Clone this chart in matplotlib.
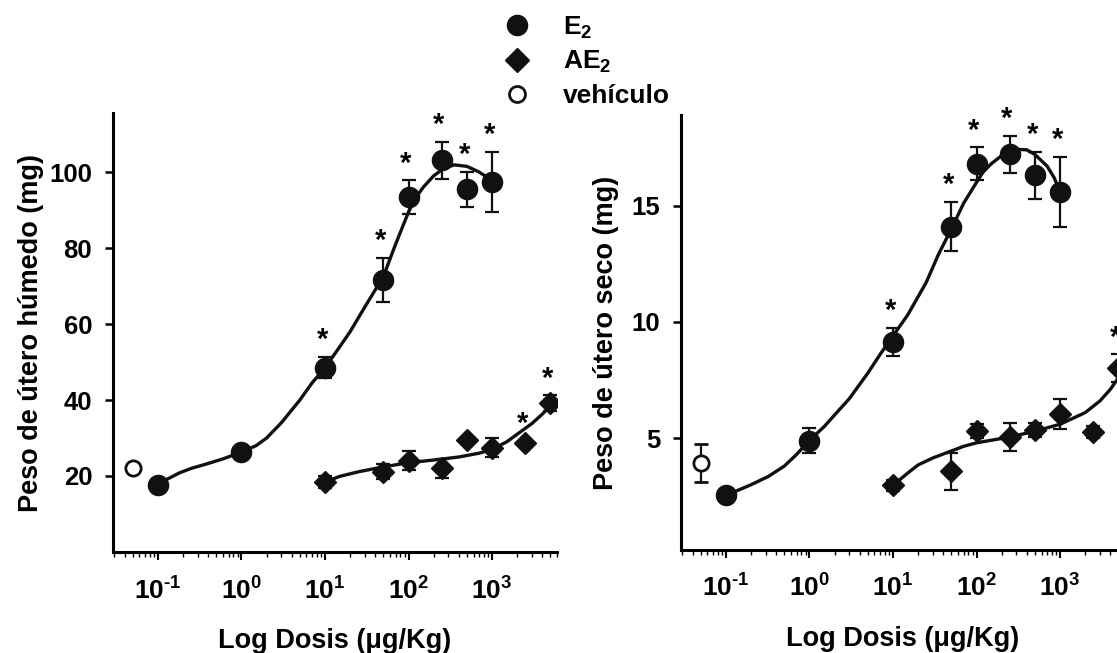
import matplotlib
matplotlib.use("Agg")
import matplotlib.pyplot as plt
from matplotlib.lines import Line2D
from matplotlib.ticker import FixedLocator, FixedFormatter, LogLocator, NullFormatter

plt.rcParams["font.family"] = ["Liberation Sans", "DejaVu Sans"]
plt.rcParams["font.weight"] = "bold"
plt.rcParams["mathtext.fontset"] = "custom"
plt.rcParams["mathtext.rm"] = "Liberation Sans:bold"
plt.rcParams["mathtext.it"] = "Liberation Sans:bold"
plt.rcParams["mathtext.bf"] = "Liberation Sans:bold"
plt.rcParams["mathtext.default"] = "rm"

# doses (ug/Kg)
e2_dose = [0.1, 1, 10, 50, 100, 250, 500, 1000]
ae2_dose = [10, 50, 100, 250, 500, 1000, 2500, 5000]
veh_dose = [0.05]

# wet uterine weight (mg)
wet_e2 = [17.6, 26.3, 48.5, 71.6, 93.4, 103.1, 95.5, 97.4]
wet_e2_err = [0.8, 1.0, 2.8, 5.8, 4.4, 4.8, 4.6, 7.9]
wet_e2_sig = [False, False, True, True, True, True, True, True]
wet_ae2 = [18.4, 21.1, 24.0, 22.1, 29.5, 27.4, 28.7, 39.2]
wet_ae2_err = [1.5, 2.0, 2.5, 2.5, 0.8, 2.5, 0.5, 2.0]
wet_ae2_sig = [False, False, False, False, False, False, True, True]
wet_veh = [22.1]
wet_veh_err = [0.8]

# dry uterine weight (mg)
dry_e2 = [2.54, 4.9, 9.14, 14.1, 16.8, 17.2, 16.3, 15.6]
dry_e2_err = [0.15, 0.55, 0.6, 1.05, 0.7, 0.8, 1.0, 1.5]
dry_e2_sig = [False, False, True, True, True, True, True, True]
dry_ae2 = [2.97, 3.58, 5.3, 5.04, 5.34, 6.03, 5.27, 8.0]
dry_ae2_err = [0.25, 0.8, 0.3, 0.6, 0.3, 0.65, 0.25, 0.6]
dry_ae2_sig = [False, False, False, False, False, False, False, True]
dry_veh = [3.93]
dry_veh_err = [0.8]

# fitted curves
wet_e2_fit_x = [0.1, 0.13, 0.18, 0.25, 0.4, 0.6, 1, 1.5, 2, 3, 5, 7, 10, 15, 20, 30,
                50, 70, 100, 120, 150, 200, 250, 350, 500, 700, 850, 1000]
wet_e2_fit_y = [17.8, 19.2, 20.8, 22.0, 23.3, 24.5, 26.3, 28.0, 30.0, 34.0, 40.0,
                44.5, 48.5, 54.0, 58.0, 64.5, 72.5, 81.0, 89.5, 93.0, 96.0, 99.0,
                100.6, 101.9, 101.5, 100.0, 98.8, 97.4]
wet_ae2_fit_x = [10, 15, 25, 50, 100, 200, 400, 700, 1000, 1500, 2000, 3000, 4000,
                 5000]
wet_ae2_fit_y = [18.4, 19.9, 21.1, 22.4, 23.5, 24.2, 25.0, 26.0, 27.0, 29.0, 31.0,
                 33.8, 36.3, 38.5]
dry_e2_fit_x = [0.1, 0.2, 0.32, 0.5, 0.7, 1, 1.5, 2, 3, 5, 7, 10, 15, 25, 35,
                50, 70, 100, 120, 150, 200, 300, 400, 500, 700, 850, 1000]
dry_e2_fit_y = [2.54, 3.0, 3.35, 3.8, 4.3, 4.9, 5.5, 6.0, 6.7, 7.8, 8.6, 9.4,
                10.3, 11.7, 12.9, 14.0, 15.1, 16.0, 16.45, 16.8, 17.15, 17.42,
                17.4, 17.2, 16.7, 16.2, 15.6]
dry_ae2_fit_x = [10, 15, 20, 30, 50, 70, 100, 250, 500, 1000, 2000, 3000, 4000, 5000]
dry_ae2_fit_y = [2.97, 3.5, 3.85, 4.15, 4.45, 4.65, 4.8, 5.05, 5.3, 5.6, 6.1, 6.6,
                 7.1, 7.6]

x_ticks = [0.1, 1, 10, 100, 1000]
x_tick_labels = ["10$^{\\text{-}1}$", "10$^{0}$", "10$^{1}$", "10$^{2}$", "10$^{3}$"]


def draw_panel(ax, e2, e2_err, e2_sig, ae2, ae2_err, ae2_sig, veh, veh_err,
               e2_fit, ae2_fit, ylim, yticks, ylabel, ylabelpad):
    ax.plot(e2_fit[0], e2_fit[1], color="#111111", lw=2.4, zorder=2,
            solid_joinstyle="round")
    ax.plot(ae2_fit[0], ae2_fit[1], color="#111111", lw=2.4, zorder=2,
            solid_joinstyle="round")
    eb = dict(ls="none", color="#111111", ecolor="#111111", elinewidth=1.6,
              capsize=5, capthick=1.6, zorder=3)
    ax.errorbar(e2_dose, e2, yerr=e2_err, marker="o", ms=14.5, **eb)
    ax.errorbar(ae2_dose, ae2, yerr=ae2_err, marker="D", ms=11.5, **eb)
    ax.errorbar(veh_dose, veh, yerr=veh_err, marker="o", ms=11, mfc="white",
                mew=2.0, **eb)
    for xs, ys, errs, sig in [(e2_dose, e2, e2_err, e2_sig),
                              (ae2_dose, ae2, ae2_err, ae2_sig)]:
        for x, y, e, s in zip(xs, ys, errs, sig):
            if s:
                ax.annotate("*", (x, y + e), xytext=(-2, 2), textcoords="offset points",
                            ha="center", va="bottom", fontsize=21, fontweight="bold")

    ax.set_xscale("log")
    ax.set_xlim(0.029, 6000)
    ax.set_ylim(*ylim)
    ax.xaxis.set_major_locator(FixedLocator(x_ticks))
    ax.xaxis.set_major_formatter(FixedFormatter(x_tick_labels))
    ax.xaxis.set_minor_locator(LogLocator(base=10, subs=range(2, 10)))
    ax.xaxis.set_minor_formatter(NullFormatter())
    ax.set_yticks(yticks)
    for side in ("top", "right"):
        ax.spines[side].set_visible(False)
    for side in ("left", "bottom"):
        ax.spines[side].set_linewidth(2.2)
    ax.tick_params(axis="x", which="major", length=6, width=1.5, pad=12, labelsize=19)
    ax.tick_params(axis="x", which="minor", length=3.5, width=1.0)
    ax.tick_params(axis="y", length=6, width=1.8, pad=9, labelsize=18.5)
    ax.set_xlabel("Log Dosis (\u03bcg/Kg)", fontsize=19.5, fontweight="bold", labelpad=17)
    ax.set_ylabel(ylabel, fontsize=19.5, fontweight="bold", labelpad=ylabelpad)


fig = plt.figure(figsize=(11.17, 6.53), dpi=100)
ax1 = fig.add_axes([0.1012, 0.1547, 0.3975, 0.672])
ax2 = fig.add_axes([0.6097, 0.158, 0.3975, 0.666])

draw_panel(ax1, wet_e2, wet_e2_err, wet_e2_sig, wet_ae2, wet_ae2_err, wet_ae2_sig,
           wet_veh, wet_veh_err, (wet_e2_fit_x, wet_e2_fit_y),
           (wet_ae2_fit_x, wet_ae2_fit_y), (0, 115.5), [20, 40, 60, 80, 100],
           "Peso de \u00fatero h\u00famedo (mg)", 4)
draw_panel(ax2, dry_e2, dry_e2_err, dry_e2_sig, dry_ae2, dry_ae2_err, dry_ae2_sig,
           dry_veh, dry_veh_err, (dry_e2_fit_x, dry_e2_fit_y),
           (dry_ae2_fit_x, dry_ae2_fit_y), (0.2, 18.9), [5, 10, 15],
           "Peso de \u00fatero seco (mg)", 9)

handles = [
    Line2D([], [], ls="none", marker="o", ms=14.5, color="#111111"),
    Line2D([], [], ls="none", marker="D", ms=12, color="#111111"),
    Line2D([], [], ls="none", marker="o", ms=11.5, mfc="white", mec="#111111", mew=2.0),
]
fig.legend(handles, ["E$_2$", "AE$_2$", "veh\u00edculo"], loc="upper left",
           bbox_to_anchor=(0.438, 1.0), frameon=False, fontsize=19,
           handlelength=1.0, handletextpad=1.25, labelspacing=0.32,
           borderaxespad=0.15)

fig.savefig("out.png", dpi=100)
plt.close(fig)
